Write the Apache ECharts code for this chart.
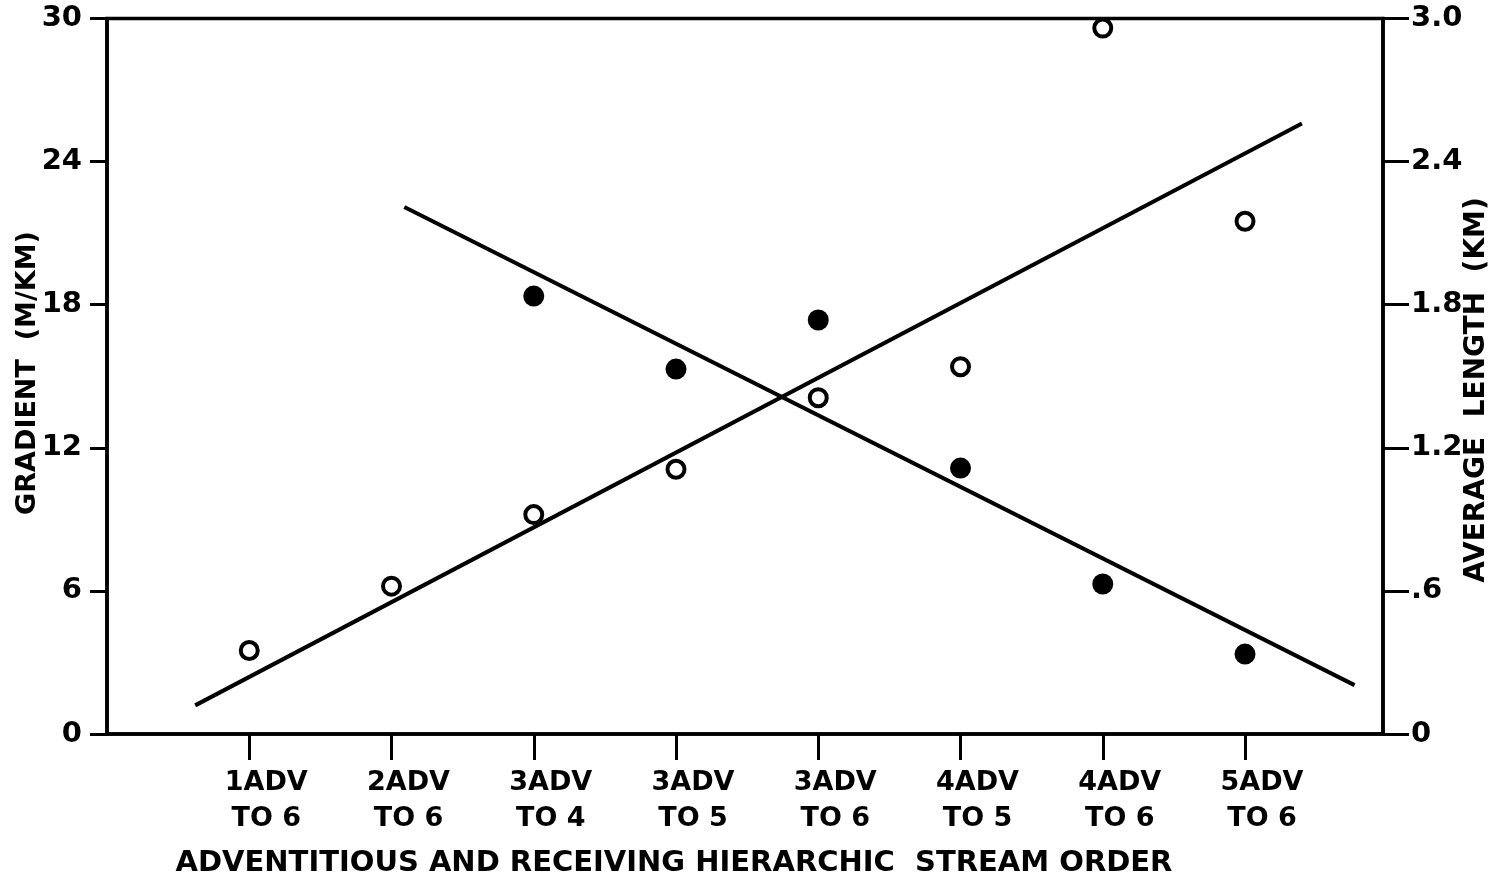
<!DOCTYPE html>
<html>
<head>
<meta charset="utf-8">
<title>Gradient and average length by stream order</title>
<script src="https://cdn.jsdelivr.net/npm/echarts@6/dist/echarts.min.js"></script>
<style>
  html, body { margin: 0; padding: 0; background: #fff; }
  #chart { width: 1499px; height: 882px; }
</style>
</head>
<body>
<div id="chart"></div>
<script>
// Stream-order groups (adventitious order -> receiving order)
const categories = [
  '1ADV\nTO 6', '2ADV\nTO 6', '3ADV\nTO 4', '3ADV\nTO 5',
  '3ADV\nTO 6', '4ADV\nTO 5', '4ADV\nTO 6', '5ADV\nTO 6'
];

// Average length (km), open circles, right axis
const lengthKm = [0.35, 0.62, 0.92, 1.11, 1.41, 1.54, 2.96, 2.15];

// Gradient (m/km), filled circles, left axis; no values for the first two groups
const gradient = [null, null, 18.36, 15.30, 17.36, 11.15, 6.29, 3.35];

// Fitted trend lines: [category position, value] end points
const lengthFit = [[-0.38, 0.12], [7.40, 2.56]];
const gradientFit = [[1.09, 22.10], [7.77, 2.05]];

// Axis tick labels
const leftTickLabels = ['0', '6', '12', '18', '24', '30'];
const rightTickLabels = ['0', '.6', '1.2', '1.8', '2.4', '3.0'];

const FONT = '"DejaVu Sans", "Liberation Sans", sans-serif';
const INK = '#000';

const catIdx = categories.map((_, i) => i);
const lengthPts = lengthKm.map((v, i) => [i, v]);
const gradientPts = gradient.map((v, i) => [i, v]).filter(p => p[1] !== null);

const chart = echarts.init(document.getElementById('chart'), null, { renderer: 'canvas' });

chart.setOption({
  animation: false,
  backgroundColor: '#fff',
  grid: {
    left: 107, right: 116, top: 18.5, bottom: 148,
    show: true, borderColor: INK, borderWidth: 3.5, backgroundColor: 'transparent'
  },
  xAxis: {
    type: 'value',
    min: -1, max: 7.97, interval: 1,
    splitLine: { show: false },
    axisLine: { show: true, onZero: false, lineStyle: { color: INK, width: 3.5 } },
    axisTick: {
      show: true, inside: false, length: 26,
      customValues: catIdx,
      lineStyle: { color: INK, width: 3 }
    },
    axisLabel: {
      customValues: catIdx,
      formatter: v => categories[Math.round(v)] || '',
      color: INK, fontFamily: FONT, fontWeight: 'bold', fontSize: 27,
      lineHeight: 36, margin: 31, padding: [0, 0, 0, 34], align: 'center'
    }
  },
  yAxis: [
    {
      type: 'value', position: 'left',
      min: 0, max: 30, interval: 6,
      splitLine: { show: false },
      axisLine: { show: true, onZero: false, lineStyle: { color: INK, width: 3.5 } },
      axisTick: { show: true, inside: false, length: 17, lineStyle: { color: INK, width: 3 } },
      axisLabel: {
        formatter: (v, i) => leftTickLabels[i],
        color: INK, fontFamily: FONT, fontWeight: 'bold', fontSize: 29, margin: 25
      }
    },
    {
      type: 'value', position: 'right',
      min: 0, max: 3, interval: 0.6,
      splitLine: { show: false },
      axisLine: { show: true, onZero: false, lineStyle: { color: INK, width: 3.5 } },
      axisTick: { show: true, inside: false, length: 26, lineStyle: { color: INK, width: 3 } },
      axisLabel: {
        formatter: (v, i) => rightTickLabels[i],
        color: INK, fontFamily: FONT, fontWeight: 'bold', fontSize: 29, margin: 28
      }
    }
  ],
  series: [
    {
      name: 'Average length fit', type: 'line', yAxisIndex: 1,
      data: lengthFit, showSymbol: false, z: 2,
      lineStyle: { color: INK, width: 4 }
    },
    {
      name: 'Gradient fit', type: 'line', yAxisIndex: 0,
      data: gradientFit, showSymbol: false, z: 2,
      lineStyle: { color: INK, width: 4 }
    },
    {
      name: 'Average length', type: 'scatter', yAxisIndex: 1,
      data: lengthPts, symbol: 'circle', symbolSize: 17, z: 3,
      itemStyle: { color: '#fff', borderColor: INK, borderWidth: 4, opacity: 1 }
    },
    {
      name: 'Gradient', type: 'scatter', yAxisIndex: 0,
      data: gradientPts, symbol: 'circle', symbolSize: 21, z: 3,
      itemStyle: { color: INK, opacity: 1 }
    }
  ],
  graphic: [
    {
      type: 'text', x: 28, y: 373, rotation: Math.PI / 2,
      style: {
        text: 'GRADIENT  (M/KM)', fill: INK,
        font: 'bold 27px ' + FONT, align: 'center', verticalAlign: 'middle'
      }
    },
    {
      type: 'text', x: 1477, y: 390, rotation: Math.PI / 2,
      style: {
        text: 'AVERAGE  LENGTH  (KM)', fill: INK,
        font: 'bold 28px ' + FONT, align: 'center', verticalAlign: 'middle'
      }
    },
    {
      type: 'text', x: 674, y: 863,
      style: {
        text: 'ADVENTITIOUS AND RECEIVING HIERARCHIC  STREAM ORDER', fill: INK,
        font: 'bold 29px ' + FONT, align: 'center', verticalAlign: 'middle'
      }
    }
  ]
});
</script>
</body>
</html>
